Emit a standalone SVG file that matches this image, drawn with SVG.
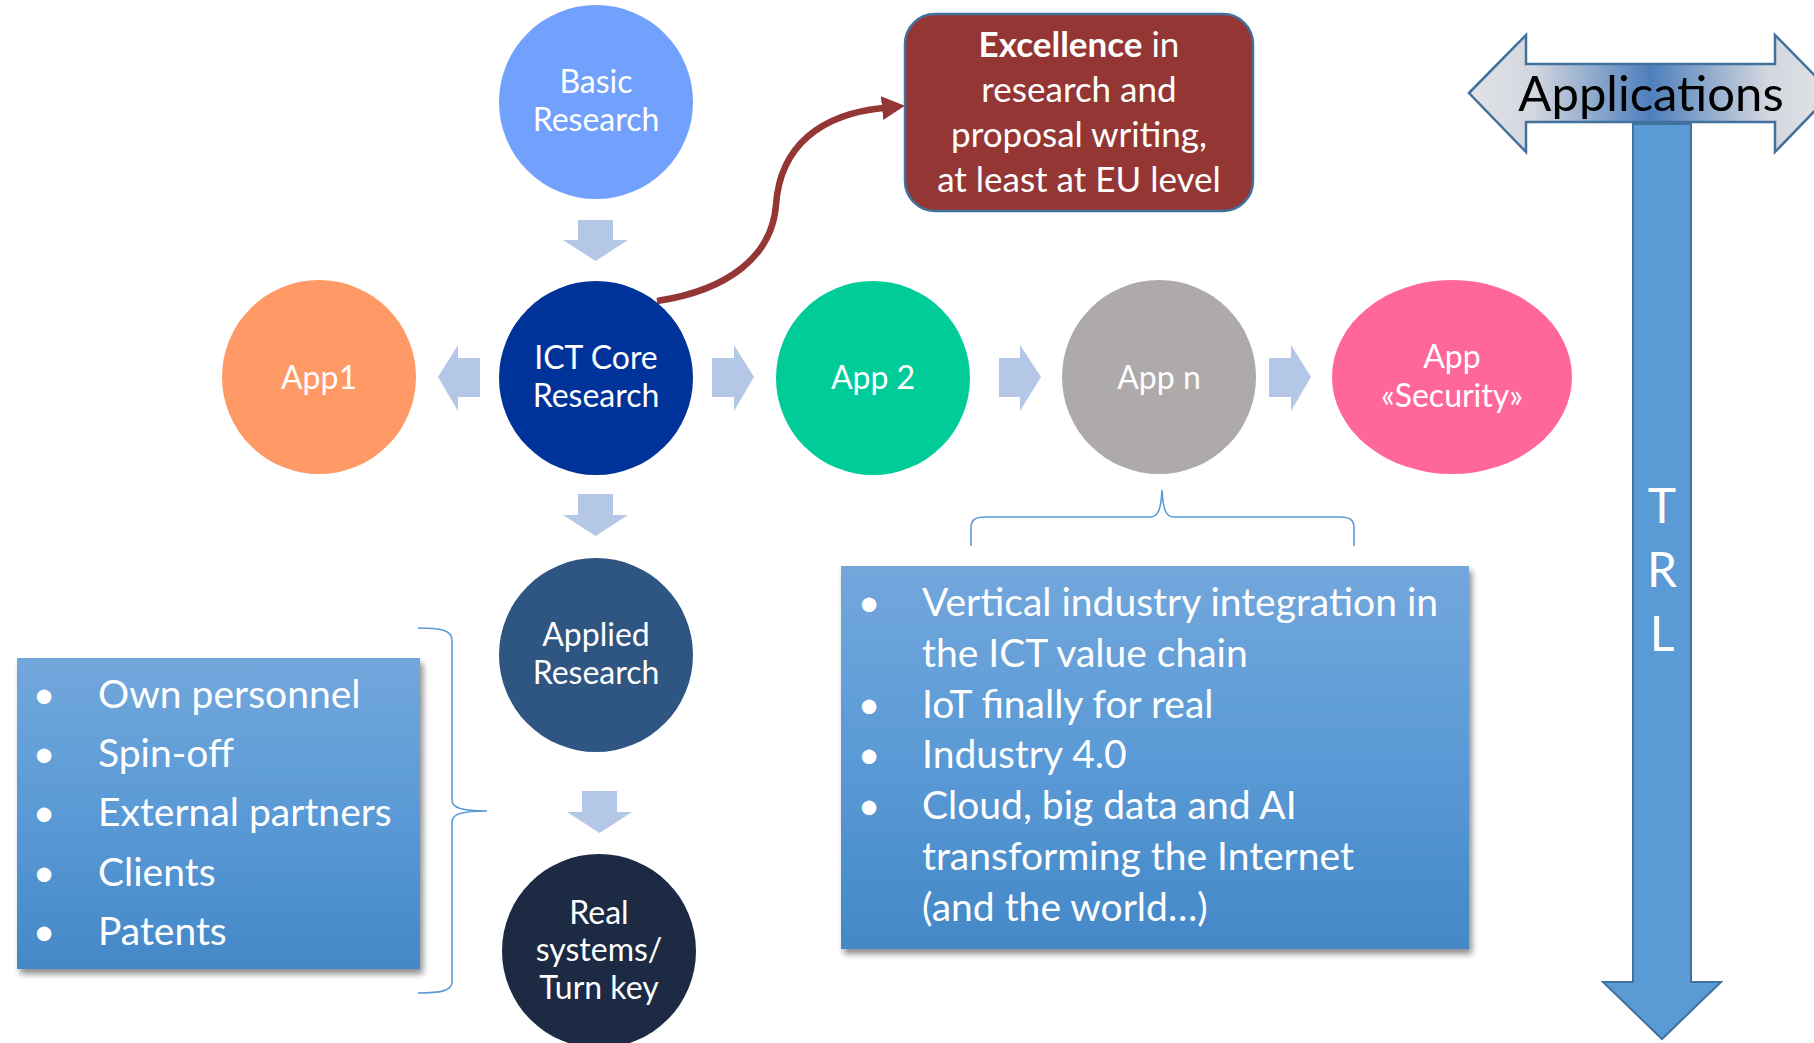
<svg xmlns="http://www.w3.org/2000/svg" width="1814" height="1043" viewBox="0 0 1814 1043">
<defs>
<style>
.t{font-family:Lato,"Open Sans","Liberation Sans",sans-serif;fill:#fff}
.c{font-size:32px;text-anchor:middle}
.r{font-size:35px;text-anchor:middle}
.b{font-size:39px}
.m{text-anchor:middle}
.blk{fill:#B4C7E7}
.br{fill:none;stroke:#5B9BD5;stroke-width:1.6}
</style>
<linearGradient id="boxg" x1="0" y1="0" x2="0" y2="1">
<stop offset="0" stop-color="#73A7DC"/><stop offset="0.5" stop-color="#5A9AD6"/><stop offset="1" stop-color="#4488C7"/>
</linearGradient>
<linearGradient id="appg" x1="1469" y1="0" x2="1832" y2="0" gradientUnits="userSpaceOnUse">
<stop offset="0" stop-color="#E2E3E7"/><stop offset="0.18" stop-color="#D2D6DE"/><stop offset="0.5" stop-color="#4E7FBC"/><stop offset="0.82" stop-color="#D2D6DE"/><stop offset="1" stop-color="#E2E3E7"/>
</linearGradient>
<filter id="sh" x="-5%" y="-5%" width="115%" height="115%">
<feGaussianBlur in="SourceAlpha" stdDeviation="3"/>
<feOffset dx="3" dy="5" result="o"/>
<feComponentTransfer><feFuncA type="linear" slope="0.45"/></feComponentTransfer>
<feMerge><feMergeNode/><feMergeNode in="SourceGraphic"/></feMerge>
</filter>
<marker id="ah" markerUnits="userSpaceOnUse" markerWidth="26" markerHeight="26" refX="1" refY="12" orient="auto">
<path d="M0,0 L23,12 L0,24 Z" fill="#943634"/>
</marker>
</defs>
<rect width="1814" height="1043" fill="#fff"/>

<g id="connectors">
<path class="blk" d="M578,220 H613 V240 H628 L595.5,261 L563,240 H578 Z"/>
<path class="blk" d="M578,494 H613 V515 H628 L595.5,536 L563,515 H578 Z"/>
<path class="blk" d="M582,791 H617 V812 H632 L599.5,833 L567,812 H582 Z"/>
<path class="blk" d="M480,358 V397 H458 V411 L438,377 L458,345 V358 Z"/>
<path class="blk" d="M712,358 V397 H734 V411 L754,377 L734,345 V358 Z"/>
<path class="blk" d="M999,358 V397 H1020 V411 L1041,377 L1020,345 V358 Z"/>
<path class="blk" d="M1269,358 V397 H1291 V411 L1311,377 L1291,345 V358 Z"/>
<path d="M657,301 C730,290 772,255 776,205 C780,145 822,114 883,108" fill="none" stroke="#943634" stroke-width="6.5" marker-end="url(#ah)"/>
<path class="br" d="M418,628 C440,628 452,630 452,640 V800 C452,808 462,811 487,811 C462,811 452,814 452,822 V982 C452,991 440,993 418,993"/>
<path class="br" d="M971,546 V528 C971,520 975,517 985,517 H1150 C1158,517 1161,510 1162,490 C1163,510 1166,517 1174,517 H1340 C1350,517 1354,520 1354,528 V546"/>
</g>

<g id="basic-research">
<circle cx="596" cy="102" r="97" fill="#72A0FD"/>
<text class="t c" x="596" y="93">Basic</text>
<text class="t c" x="596" y="131">Research</text>
</g>
<g id="ict-core">
<circle cx="596" cy="378" r="97" fill="#003399"/>
<text class="t c" x="596" y="369">ICT Core</text>
<text class="t c" x="596" y="407">Research</text>
</g>
<g id="app1">
<circle cx="319" cy="377" r="97" fill="#FF9966"/>
<text class="t c" x="319" y="389">App1</text>
</g>
<g id="app2">
<circle cx="873" cy="378" r="97" fill="#00CC99"/>
<text class="t c" x="873" y="389">App 2</text>
</g>
<g id="appn">
<circle cx="1159" cy="377" r="97" fill="#AEAAAA"/>
<text class="t c" x="1159" y="389">App n</text>
</g>
<g id="app-security">
<ellipse cx="1452" cy="377" rx="120" ry="97" fill="#FF6699"/>
<text class="t c" x="1452" y="368">App</text>
<text class="t c" x="1452" y="407">«Security»</text>
</g>
<g id="applied-research">
<circle cx="596" cy="655" r="97" fill="#2F5582"/>
<text class="t c" x="596" y="646">Applied</text>
<text class="t c" x="596" y="684">Research</text>
</g>
<g id="real-systems">
<circle cx="599" cy="951" r="97" fill="#1C2A44"/>
<text class="t c" x="599" y="924">Real</text>
<text class="t c" x="599" y="961">systems/</text>
<text class="t c" x="599" y="999">Turn key</text>
</g>

<g id="excellence">
<rect x="905" y="14" width="348" height="197" rx="30" fill="#943634" stroke="#41719C" stroke-width="2.5"/>
<text class="t r" x="1079" y="57"><tspan font-weight="bold">Excellence</tspan> in</text>
<text class="t r" x="1079" y="102">research and</text>
<text class="t r" x="1079" y="147">proposal writing,</text>
<text class="t r" x="1079" y="192">at least at EU level</text>
</g>

<g id="trl">
<path d="M1633,124 H1691 V982 H1721 L1662,1039 L1603,982 H1633 Z" fill="#5B9BD5" stroke="#41719C" stroke-width="2"/>
<text class="t m" font-size="48" x="1662" y="523">T</text>
<text class="t m" font-size="48" x="1662" y="587">R</text>
<text class="t m" font-size="48" x="1662" y="651">L</text>
</g>
<g id="applications">
<path d="M1469,93 L1526,35 V64 H1775 V35 L1832,93 L1775,152 V122 H1526 V152 Z" fill="url(#appg)" stroke="#41719C" stroke-width="2.5"/>
<text x="1651" y="111" font-family="Lato,'Open Sans','Liberation Sans',sans-serif" font-size="49" fill="#000" text-anchor="middle">Applications</text>
</g>

<g id="resources">
<rect x="17" y="658" width="403" height="311" fill="url(#boxg)" filter="url(#sh)"/>
<g class="t b">
<text x="44" y="708" text-anchor="middle">•</text><text x="98" y="708">Own personnel</text>
<text x="44" y="767" text-anchor="middle">•</text><text x="98" y="767">Spin-off</text>
<text x="44" y="826" text-anchor="middle">•</text><text x="98" y="826">External partners</text>
<text x="44" y="886" text-anchor="middle">•</text><text x="98" y="886">Clients</text>
<text x="44" y="945" text-anchor="middle">•</text><text x="98" y="945">Patents</text>
</g>
</g>

<g id="trends">
<rect x="841" y="566" width="628" height="383" fill="url(#boxg)" filter="url(#sh)"/>
<g class="t b">
<text x="869" y="616" text-anchor="middle">•</text><text x="922" y="616">Vertical industry integration in</text>
<text x="922" y="667">the ICT value chain</text>
<text x="869" y="718" text-anchor="middle">•</text><text x="922" y="718">IoT finally for real</text>
<text x="869" y="768" text-anchor="middle">•</text><text x="922" y="768">Industry 4.0</text>
<text x="869" y="819" text-anchor="middle">•</text><text x="922" y="819">Cloud, big data and AI</text>
<text x="922" y="870">transforming the Internet</text>
<text x="922" y="921">(and the world…)</text>
</g>
</g>
</svg>
